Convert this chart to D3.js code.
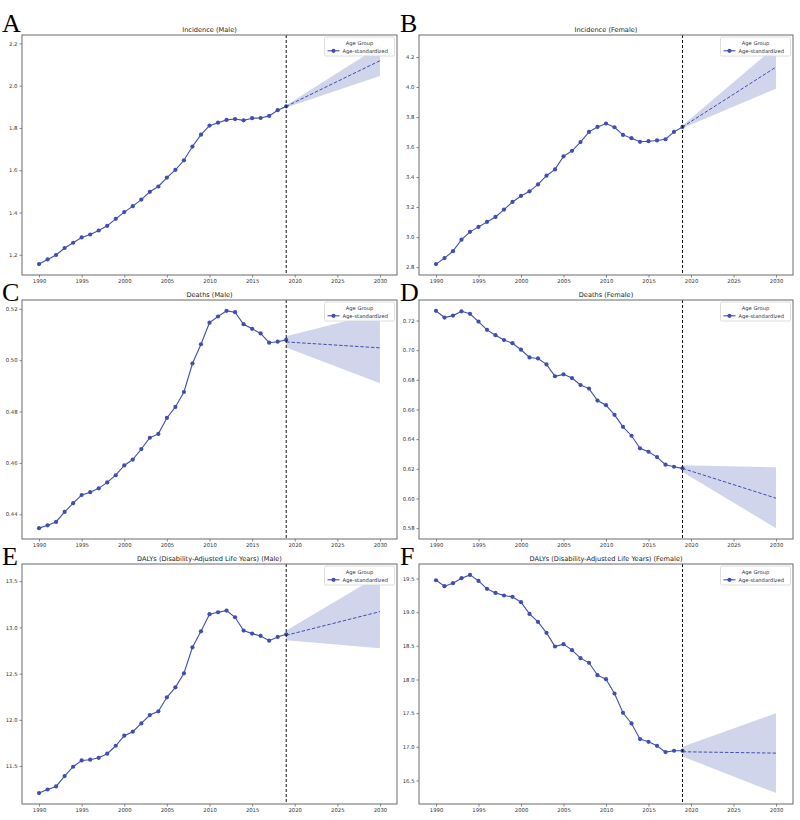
<!DOCTYPE html>
<html>
<head>
<meta charset="utf-8">
<script src="https://cdn.jsdelivr.net/npm/d3@7"></script>
<style>
  body { margin: 0; background: #fff; }
  svg { display: block; }
</style>
</head>
<body>
<svg id="chart" width="800" height="820"></svg>
<script>
// observed years and forecast horizon
const years = [1990, 1991, 1992, 1993, 1994, 1995, 1996, 1997, 1998, 1999,
  2000, 2001, 2002, 2003, 2004, 2005, 2006, 2007, 2008, 2009,
  2010, 2011, 2012, 2013, 2014, 2015, 2016, 2017, 2018, 2019];
const forecastYears = [2019, 2030];
const cutYear = 2019;
const xTicks = [1990, 1995, 2000, 2005, 2010, 2015, 2020, 2025, 2030];

// A - incidence male
const incMale = [1.156, 1.178, 1.199, 1.232, 1.257, 1.282, 1.296, 1.315, 1.337, 1.370,
  1.402, 1.430, 1.461, 1.498, 1.523, 1.565, 1.602, 1.647, 1.712, 1.768,
  1.811, 1.825, 1.838, 1.842, 1.836, 1.846, 1.847, 1.857, 1.884, 1.902];
const incMaleFc = [1.902, 2.118];
const incMaleLo = [1.897, 2.046];
const incMaleHi = [1.907, 2.188];
const incMaleTicks = [1.2, 1.4, 1.6, 1.8, 2.0, 2.2];

// B - incidence female
const incFemale = [2.820, 2.860, 2.906, 2.983, 3.035, 3.068, 3.101, 3.134, 3.183, 3.234,
  3.274, 3.305, 3.351, 3.409, 3.451, 3.538, 3.575, 3.633, 3.701, 3.734,
  3.757, 3.732, 3.681, 3.659, 3.635, 3.639, 3.644, 3.652, 3.701, 3.734];
const incFemaleFc = [3.734, 4.133];
const incFemaleLo = [3.725, 3.989];
const incFemaleHi = [3.743, 4.274];
const incFemaleTicks = [2.8, 3.0, 3.2, 3.4, 3.6, 3.8, 4.0, 4.2];

// C - deaths male
const deathMale = [0.4346, 0.4357, 0.4370, 0.4409, 0.4443, 0.4475, 0.4486, 0.4501, 0.4524, 0.4552,
  0.4590, 0.4613, 0.4654, 0.4698, 0.4713, 0.4775, 0.4818, 0.4876, 0.4987, 0.5062,
  0.5146, 0.5170, 0.5192, 0.5187, 0.5140, 0.5122, 0.5104, 0.5068, 0.5072, 0.5079];
const deathMaleFc = [0.5071, 0.5048];
const deathMaleLo = [0.5049, 0.4910];
const deathMaleHi = [0.5093, 0.5186];
const deathMaleTicks = [0.44, 0.46, 0.48, 0.50, 0.52];

// D - deaths female
const deathFemale = [0.7265, 0.7220, 0.7233, 0.7262, 0.7245, 0.7193, 0.7137, 0.7101, 0.7068, 0.7047,
  0.7003, 0.6951, 0.6944, 0.6904, 0.6824, 0.6837, 0.6812, 0.6765, 0.6741, 0.6660,
  0.6629, 0.6564, 0.6483, 0.6423, 0.6338, 0.6315, 0.6279, 0.6228, 0.6214, 0.6203];
const deathFemaleFc = [0.6203, 0.6002];
const deathFemaleLo = [0.6178, 0.5800];
const deathFemaleHi = [0.6224, 0.6210];
const deathFemaleTicks = [0.58, 0.60, 0.62, 0.64, 0.66, 0.68, 0.70, 0.72];

// E - DALYs male
const dalyMale = [11.208, 11.247, 11.280, 11.392, 11.493, 11.561, 11.569, 11.590, 11.634, 11.720,
  11.829, 11.872, 11.962, 12.052, 12.092, 12.244, 12.352, 12.504, 12.785, 12.958,
  13.143, 13.164, 13.182, 13.110, 12.966, 12.933, 12.908, 12.857, 12.897, 12.926];
const dalyMaleFc = [12.915, 13.171];
const dalyMaleLo = [12.862, 12.774];
const dalyMaleHi = [12.968, 13.568];
const dalyMaleTicks = [11.5, 12.0, 12.5, 13.0, 13.5];

// F - DALYs female
const dalyFemale = [19.475, 19.386, 19.431, 19.505, 19.554, 19.465, 19.347, 19.287, 19.248, 19.228,
  19.149, 18.975, 18.856, 18.693, 18.490, 18.525, 18.436, 18.317, 18.248, 18.064,
  18.005, 17.792, 17.505, 17.347, 17.114, 17.074, 17.015, 16.921, 16.941, 16.941];
const dalyFemaleFc = [16.926, 16.906];
const dalyFemaleLo = [16.856, 16.312];
const dalyFemaleHi = [17.000, 17.500];
const dalyFemaleTicks = [16.5, 17.0, 17.5, 18.0, 18.5, 19.0, 19.5];

const panels = [
  { letter: "A", title: "Incidence (Male)", obs: incMale, fc: incMaleFc, lo: incMaleLo, hi: incMaleHi, ticks: incMaleTicks, fmt: ".1f" },
  { letter: "B", title: "Incidence (Female)", obs: incFemale, fc: incFemaleFc, lo: incFemaleLo, hi: incFemaleHi, ticks: incFemaleTicks, fmt: ".1f" },
  { letter: "C", title: "Deaths (Male)", obs: deathMale, fc: deathMaleFc, lo: deathMaleLo, hi: deathMaleHi, ticks: deathMaleTicks, fmt: ".2f" },
  { letter: "D", title: "Deaths (Female)", obs: deathFemale, fc: deathFemaleFc, lo: deathFemaleLo, hi: deathFemaleHi, ticks: deathFemaleTicks, fmt: ".2f" },
  { letter: "E", title: "DALYs (Disability-Adjusted Life Years) (Male)", obs: dalyMale, fc: dalyMaleFc, lo: dalyMaleLo, hi: dalyMaleHi, ticks: dalyMaleTicks, fmt: ".1f" },
  { letter: "F", title: "DALYs (Disability-Adjusted Life Years) (Female)", obs: dalyFemale, fc: dalyFemaleFc, lo: dalyFemaleLo, hi: dalyFemaleHi, ticks: dalyFemaleTicks, fmt: ".1f" },
];

// layout
const colX = [[22, 397], [419, 793]];
const rowY = [[35, 275], [300, 539], [564, 804]];
const letterX = [2, 400];
const letterBase = [32, 301, 565];

const blue = "#3f4fb0";
const spine = "#6b6b6b";
const font = "DejaVu Sans, sans-serif";

// matplotlib style 5% margins
function padded(lo, hi) {
  const p = (hi - lo) * 0.05;
  return [lo - p, hi + p];
}

function drawPanel(svg, panel, i) {
  const col = i % 2;
  const row = Math.floor(i / 2);
  const [x0, x1] = colX[col];
  const [y0, y1] = rowY[row];

  const x = d3.scaleLinear()
    .domain(padded(d3.min(years), d3.max(forecastYears)))
    .range([x0, x1]);

  const all = panel.obs.concat(panel.lo, panel.hi, panel.fc);
  const y = d3.scaleLinear()
    .domain(padded(d3.min(all), d3.max(all)))
    .range([y1, y0]);

  let g = svg.append("g");

  // forecast band
  const band = d3.area()
    .x((d, j) => x(forecastYears[j]))
    .y0((d, j) => y(panel.lo[j]))
    .y1((d, j) => y(panel.hi[j]));

  g.append("path")
    .datum(panel.fc)
    .attr("d", band)
    .attr("fill", blue)
    .attr("fill-opacity", 0.24);

  // observed series
  const line = d3.line()
    .x((d, j) => x(years[j]))
    .y(d => y(d));

  g.append("path")
    .datum(panel.obs)
    .attr("d", line)
    .attr("fill", "none")
    .attr("stroke", blue)
    .attr("stroke-width", 1.1);

  g.selectAll("circle.pt")
    .data(panel.obs)
    .join("circle")
    .attr("class", "pt")
    .attr("cx", (d, j) => x(years[j]))
    .attr("cy", d => y(d))
    .attr("r", 2.1)
    .attr("fill", blue);

  // forecast line
  const fcLine = d3.line()
    .x((d, j) => x(forecastYears[j]))
    .y(d => y(d));

  g.append("path")
    .datum(panel.fc)
    .attr("d", fcLine)
    .attr("fill", "none")
    .attr("stroke", blue)
    .attr("stroke-width", 1)
    .attr("stroke-dasharray", "3.5,1.8");

  // cut-off year
  g.append("line")
    .attr("x1", x(cutYear))
    .attr("x2", x(cutYear))
    .attr("y1", y0)
    .attr("y2", y1)
    .attr("stroke", "#111")
    .attr("stroke-width", 1)
    .attr("stroke-dasharray", "3,2");

  // axes
  let xAxis = g.append("g")
    .attr("transform", `translate(0,${y1})`)
    .call(d3.axisBottom(x).tickValues(xTicks).tickFormat(d3.format("d")).tickSize(2.5).tickPadding(2));

  let yAxis = g.append("g")
    .attr("transform", `translate(${x0},0)`)
    .call(d3.axisLeft(y).tickValues(panel.ticks).tickFormat(d3.format(panel.fmt)).tickSize(2.5).tickPadding(2));

  [xAxis, yAxis].forEach(a => {
    a.select(".domain").remove();
    a.selectAll(".tick line").attr("stroke", spine).attr("stroke-width", 0.8);
    a.selectAll(".tick text")
      .attr("fill", "#333")
      .style("font-family", font)
      .style("font-size", "5.3px");
  });

  // frame
  g.append("rect")
    .attr("x", x0)
    .attr("y", y0)
    .attr("width", x1 - x0)
    .attr("height", y1 - y0)
    .attr("fill", "none")
    .attr("stroke", spine)
    .attr("stroke-width", 1);

  // title
  g.append("text")
    .text(panel.title)
    .attr("x", (x0 + x1) / 2)
    .attr("y", y0 - 3.5)
    .attr("text-anchor", "middle")
    .attr("fill", "#222")
    .style("font-family", font)
    .style("font-size", "6.6px");

  // legend
  const lx = x1 - 72.5;
  const ly = y0 + 2;
  let legend = g.append("g");
  legend.append("rect")
    .attr("x", lx)
    .attr("y", ly)
    .attr("width", 70)
    .attr("height", 19)
    .attr("rx", 1.5)
    .attr("fill", "#fff")
    .attr("fill-opacity", 0.8)
    .attr("stroke", "#d6d6d6")
    .attr("stroke-width", 0.8);
  legend.append("text")
    .text("Age Group")
    .attr("x", lx + 35)
    .attr("y", ly + 7.6)
    .attr("text-anchor", "middle")
    .attr("fill", "#333")
    .style("font-family", font)
    .style("font-size", "5.2px");
  legend.append("line")
    .attr("x1", lx + 3)
    .attr("x2", lx + 15)
    .attr("y1", ly + 13.8)
    .attr("y2", ly + 13.8)
    .attr("stroke", blue)
    .attr("stroke-width", 1.1);
  legend.append("circle")
    .attr("cx", lx + 9)
    .attr("cy", ly + 13.8)
    .attr("r", 2.1)
    .attr("fill", blue);
  legend.append("text")
    .text("Age-standardized")
    .attr("x", lx + 18)
    .attr("y", ly + 15.6)
    .attr("fill", "#333")
    .style("font-family", font)
    .style("font-size", "5.2px");

  // panel letter
  svg.append("text")
    .text(panel.letter)
    .attr("x", letterX[col])
    .attr("y", letterBase[row])
    .attr("fill", "#000")
    .style("font-family", "Liberation Serif, DejaVu Serif, serif")
    .style("font-size", "26px");
}

let svg = d3.select("#chart");
panels.forEach((p, i) => drawPanel(svg, p, i));
</script>
</body>
</html>
